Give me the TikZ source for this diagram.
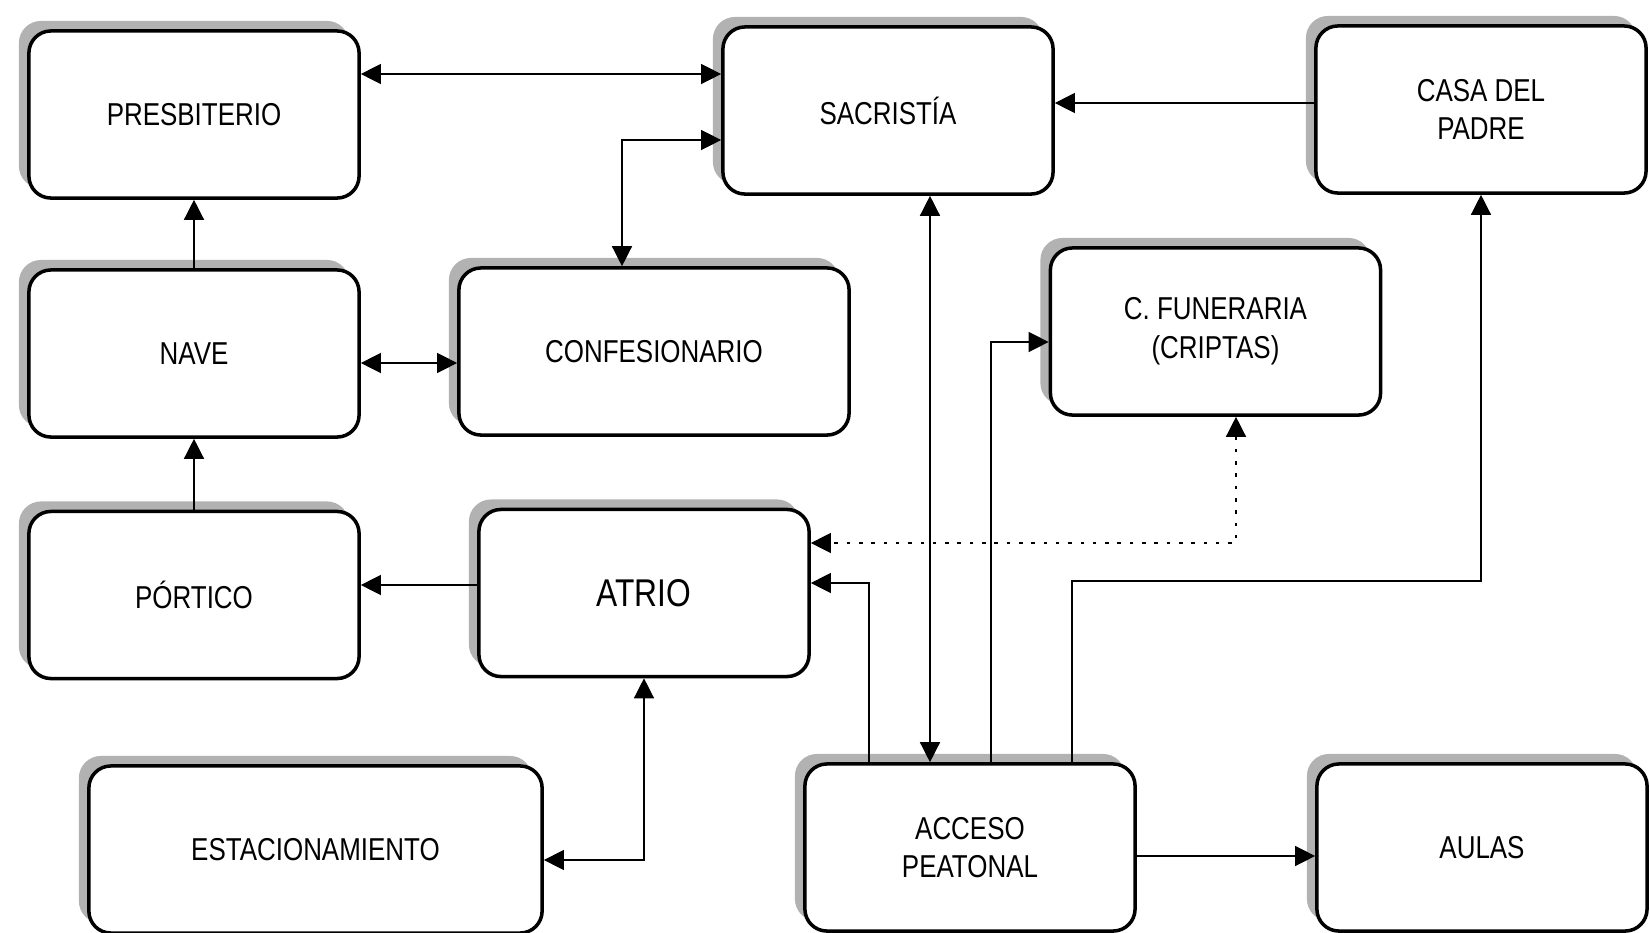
\documentclass[tikz,border=0pt]{standalone}
\usepackage{fontspec}
\setmainfont{Liberation Sans}[FakeStretch=0.82]
\usetikzlibrary{arrows.meta,shadows}

\tikzset{
  area/.style={draw, line width=1pt, rounded corners=2.2mm, fill=white,
    minimum width=3.3cm, minimum height=1.67cm, align=center,
    font=\fontsize{9}{11}\selectfont,
    drop shadow={shadow xshift=-1mm, shadow yshift=1mm, fill=gray!60, opacity=1}},
  dotline/.style={dash pattern=on 1pt off 2.5pt}
}

\begin{document}
\begin{tikzpicture}[x=0.01cm, y=-0.01cm, >={Triangle[length=2mm, width=2mm]}]
  \useasboundingbox (0,0) rectangle (1650,933);

  \node[area] (PRE) at (194,114.5) {PRESBITERIO};
  \node[area] (SAC) at (888,110.5) {SACRISTÍA};
  \node[area] (CAS) at (1481,109.5) {CASA DEL\\PADRE};
  \node[area] (NAV) at (194,353.5) {NAVE};
  \node[area, minimum width=3.9cm] (CON) at (654,351.5) {CONFESIONARIO};
  \node[area] (FUN) at (1215.5,331.5) {C. FUNERARIA\\(CRIPTAS)};
  \node[area] (POR) at (194,595) {PÓRTICO};
  \node[area, font=\fontsize{11}{13}\selectfont] (ATR) at (644,593) {ATRIO};
  \node[area, minimum width=4.53cm] (EST) at (315.5,849.5) {ESTACIONAMIENTO};
  \node[area] (ACC) at (970,847.5) {ACCESO\\PEATONAL};
  \node[area] (AUL) at (1482,847.5) {AULAS};

  \draw[<->] (PRE.east |- 0,74) -- (SAC.west |- 0,74);
  \draw[<->] (CON.north -| 622,0) |- (SAC.west |- 0,140);
  \draw[->] (CAS.west |- 0,103) -- (SAC.east |- 0,103);
  \draw[->] (NAV) -- (PRE);
  \draw[<->] (NAV.east |- 0,363) -- (CON.west |- 0,363);
  \draw[->] (POR) -- (NAV);
  \draw[->] (ATR.west |- 0,585) -- (POR.east |- 0,585);
  \draw[<->] (EST.east |- 0,860) -| (ATR.south);
  \draw[->] (ACC.north -| 869,0) |- (ATR.east |- 0,583);
  \draw[<->] (SAC.south -| 930,0) -- (ACC.north -| 930,0);
  \draw[->] (ACC.north -| 991,0) |- (FUN.west |- 0,342);
  \draw[->] (ACC.north -| 1072,0) |- (CAS.south |- 0,581) -- (CAS.south);
  \draw[<->, dotline] (FUN.south -| 1236,0) |- (ATR.east |- 0,543);
  \draw[->] (ACC.east |- 0,856) -- (AUL.west |- 0,856);

\end{tikzpicture}
\end{document}
